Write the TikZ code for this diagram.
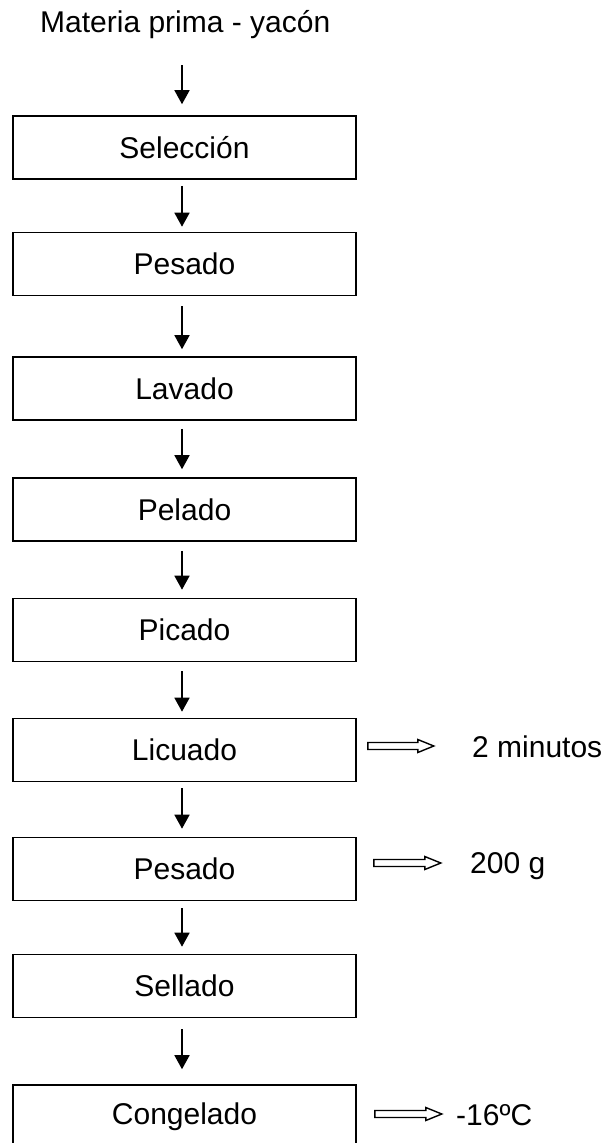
\documentclass[tikz,border=0pt]{standalone}
\usepackage{fontspec}
\setmainfont{Liberation Sans}
\usetikzlibrary{arrows.meta}
\begin{document}
\begin{tikzpicture}[x=1pt,y=-1pt,
  stepbox/.style={draw,line width=1.6pt,minimum width=343pt,minimum height=63pt,inner sep=0pt,font=\fontsize{30}{36}\selectfont},
  lbl/.style={inner sep=0pt,font=\fontsize{30}{36}\selectfont},
  flow/.style={line width=1.6pt,-{Triangle[width=15pt,length=14pt]}},
  hollow/.style={draw,line width=1.4pt,line join=miter}]
\useasboundingbox (0,0) rectangle (606,1143);
\clip (0,0) rectangle (606,1143);
\fill[white] (0,0) rectangle (606,1143);
\node[lbl,anchor=base west] (title) at (40,32) {Materia prima - yacón};
\node[stepbox] (b1) at (184.5,147.5) {Selección};
\node[stepbox] (b2) at (184.5,264) {Pesado};
\node[stepbox] (b3) at (184.5,388.5) {Lavado};
\node[stepbox] (b4) at (184.5,509.5) {Pelado};
\node[stepbox] (b5) at (184.5,630) {Picado};
\node[stepbox] (b6) at (184.5,750) {Licuado};
\node[stepbox] (b7) at (184.5,869) {Pesado};
\node[stepbox] (b8) at (184.5,986) {Sellado};
\node[stepbox] (b9) at (184.5,1116.5) {Congelado};
% vertical flow arrows
\coordinate (t0) at (182,65);
\draw[flow,shorten >=11pt] (t0) -- ([xshift=-2.5pt]b1.north);
\draw[flow,shorten <=6pt,shorten >=5pt] ([xshift=-2.5pt]b1.south) -- ([xshift=-2.5pt]b2.north);
\draw[flow,shorten <=10pt,shorten >=7pt] ([xshift=-2.5pt]b2.south) -- ([xshift=-2.5pt]b3.north);
\draw[flow,shorten <=8pt,shorten >=8pt] ([xshift=-2.5pt]b3.south) -- ([xshift=-2.5pt]b4.north);
\draw[flow,shorten <=9pt,shorten >=8pt] ([xshift=-2.5pt]b4.south) -- ([xshift=-2.5pt]b5.north);
\draw[flow,shorten <=9pt,shorten >=6pt] ([xshift=-2.5pt]b5.south) -- ([xshift=-2.5pt]b6.north);
\draw[flow,shorten <=6pt,shorten >=8pt] ([xshift=-2.5pt]b6.south) -- ([xshift=-2.5pt]b7.north);
\draw[flow,shorten <=7pt,shorten >=7pt] ([xshift=-2.5pt]b7.south) -- ([xshift=-2.5pt]b8.north);
\draw[flow,shorten <=11pt,shorten >=15pt] ([xshift=-2.5pt]b8.south) -- ([xshift=-2.5pt]b9.north);
% side labels
\node[lbl,anchor=base west] (l1) at (472,757) {2 minutos};
\node[lbl,anchor=base west] (l2) at (470,873) {200 g};
\node[lbl,anchor=base west] (l3) at (456,1125) {-16ºC};
% hollow arrows
\coordinate (h1) at ([xshift=11pt,yshift=4pt]b6.east);
\coordinate (h2) at ([xshift=17pt,yshift=6pt]b7.east);
\coordinate (h3) at ([xshift=18pt,yshift=2.5pt]b9.east);
\draw[hollow] ([yshift=3.5pt]h1) -- ++(50,0) -- ++(0,-3) -- ++(16,6.5) -- ++(-16,6.5) -- ++(0,-3) -- ++(-50,0) -- cycle;
\draw[hollow] ([yshift=3.5pt]h2) -- ++(51,0) -- ++(0,-3) -- ++(16,6.5) -- ++(-16,6.5) -- ++(0,-3) -- ++(-51,0) -- cycle;
\draw[hollow] ([yshift=3.5pt]h3) -- ++(51,0) -- ++(0,-3) -- ++(16,6.5) -- ++(-16,6.5) -- ++(0,-3) -- ++(-51,0) -- cycle;
\end{tikzpicture}
\end{document}
